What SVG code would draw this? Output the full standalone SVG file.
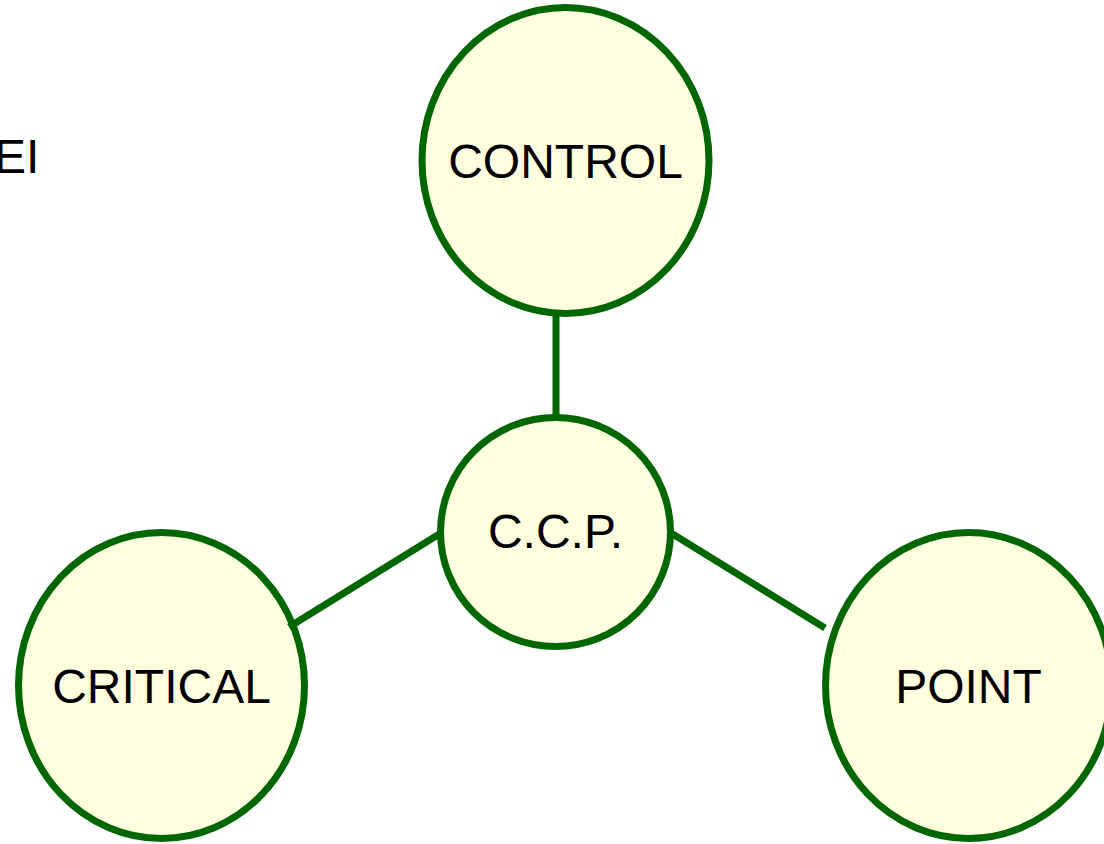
<svg xmlns="http://www.w3.org/2000/svg" width="1104" height="844" viewBox="0 0 1104 844">
<style>
.node{fill:#FFFFE0;stroke:#006600;stroke-width:7}
.lbl{font-family:"Liberation Sans",Arial,sans-serif;font-size:48px;fill:#000;text-anchor:middle}
.edge{stroke:#006600;stroke-width:7;fill:none}
</style>
<rect width="1104" height="844" fill="#fff"/>
<text x="-6" y="173" style="font-family:'Liberation Sans',Arial,sans-serif;font-size:48px;fill:#000">EI</text>
<g id="control">
<ellipse class="node" cx="565.5" cy="160.5" rx="143.5" ry="153"/>
<text class="lbl" x="565.5" y="178">CONTROL</text>
</g>
<g id="ccp">
<ellipse class="node" cx="555.5" cy="532" rx="115" ry="114.5"/>
<text class="lbl" x="555.5" y="548">C.C.P.</text>
</g>
<g id="critical">
<ellipse class="node" cx="161.5" cy="685.5" rx="143" ry="153"/>
<text class="lbl" x="161.5" y="703">CRITICAL</text>
</g>
<g id="point">
<ellipse class="node" cx="968.5" cy="685.5" rx="143" ry="153"/>
<text class="lbl" x="968.5" y="703">POINT</text>
</g>
<g id="connectors">
<line class="edge" x1="556" y1="316" x2="556" y2="416"/>
<line class="edge" x1="441" y1="533" x2="289" y2="627"/>
<line class="edge" x1="671" y1="533" x2="825" y2="628"/>
</g>
</svg>
